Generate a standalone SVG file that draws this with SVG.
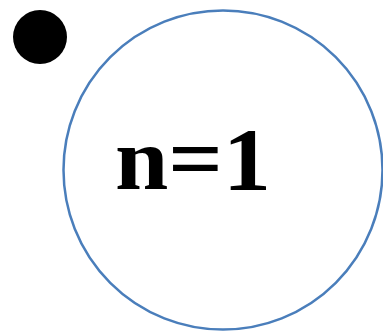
<svg xmlns="http://www.w3.org/2000/svg" width="383" height="333" viewBox="0 0 383 333">
<style>
.ring{fill:none;stroke:#4A7EBB;stroke-width:2.5}
.lbl{font-family:"Liberation Serif","DejaVu Serif",serif;font-weight:bold;font-size:88px;fill:#000}
</style>
<rect width="383" height="333" fill="#fff"/>
<g id="dot"><circle cx="40" cy="37" r="27" fill="#000"/></g>
<g id="node-n1">
<circle class="ring" cx="223" cy="170" r="159.5"/>
<text class="lbl" x="115" y="189" textLength="156" lengthAdjust="spacingAndGlyphs">n=1</text>
</g>
<g id="connectors"></g>
</svg>
